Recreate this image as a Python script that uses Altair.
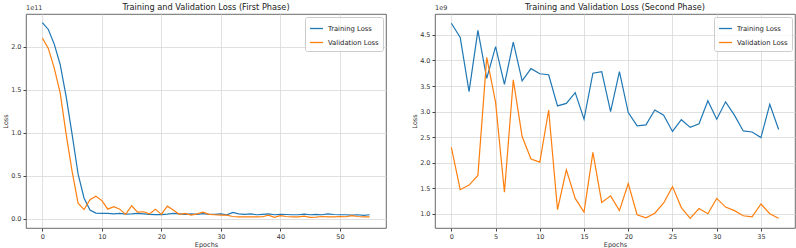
import altair as alt
import pandas as pd

# ---- data (loss values in units of the offset shown above each axis) ----
epochs1 = list(range(56))
train1 = [2.28, 2.20, 2.03, 1.79, 1.42, 0.98, 0.52, 0.24, 0.10, 0.065,
          0.062, 0.062, 0.055, 0.060, 0.052, 0.055, 0.060, 0.055, 0.050, 0.046,
          0.047, 0.052, 0.060, 0.055, 0.050, 0.055, 0.050, 0.058, 0.050, 0.050,
          0.055, 0.045, 0.072, 0.055, 0.050, 0.055, 0.045, 0.050, 0.055, 0.045,
          0.050, 0.048, 0.045, 0.045, 0.052, 0.045, 0.050, 0.045, 0.055, 0.048,
          0.045, 0.045, 0.040, 0.045, 0.038, 0.045]
val1 = [2.10, 1.98, 1.75, 1.46, 0.98, 0.55, 0.18, 0.105, 0.22, 0.26,
        0.21, 0.11, 0.14, 0.11, 0.05, 0.15, 0.075, 0.08, 0.055, 0.11,
        0.05, 0.145, 0.10, 0.05, 0.06, 0.04, 0.055, 0.075, 0.05, 0.045,
        0.04, 0.04, 0.025, 0.02, 0.02, 0.022, 0.02, 0.022, 0.04, 0.015,
        0.035, 0.025, 0.02, 0.02, 0.03, 0.015, 0.018, 0.025, 0.02, 0.02,
        0.025, 0.022, 0.035, 0.025, 0.02, 0.02]

epochs2 = list(range(38))
train2 = [4.73, 4.45, 3.39, 4.59, 3.65, 4.27, 3.53, 4.36, 3.60, 3.84,
          3.74, 3.72, 3.11, 3.16, 3.37, 2.85, 3.75, 3.78, 3.00, 3.78,
          2.98, 2.72, 2.74, 3.03, 2.93, 2.61, 2.84, 2.69, 2.76, 3.21,
          2.85, 3.19, 2.93, 2.62, 2.60, 2.49, 3.14, 2.65]
val2 = [2.30, 1.47, 1.56, 1.75, 4.06, 3.18, 1.42, 3.62, 2.51, 2.07,
        2.01, 3.03, 1.08, 1.86, 1.30, 1.03, 2.20, 1.22, 1.35, 1.06,
        1.59, 0.98, 0.92, 1.01, 1.21, 1.53, 1.12, 0.91, 1.10, 1.00,
        1.30, 1.13, 1.06, 0.96, 0.94, 1.19, 1.00, 0.91]

series = ["Training Loss", "Validation Loss"]
colors = ["#1f77b4", "#ff7f0e"]
FONT = "DejaVu Sans"
W, H = 360, 214


def frame(epochs, train, val):
    return pd.DataFrame({
        "Epochs": epochs + epochs,
        "Loss": train + val,
        "Series": [series[0]] * len(epochs) + [series[1]] * len(epochs),
    })


def panel(df, title, xdom, ydom, xticks, yticks, offset):
    base = alt.Chart(df)
    lines = base.mark_line(strokeWidth=1.2, clip=True).encode(
        x=alt.X("Epochs:Q", scale=alt.Scale(domain=xdom, nice=False, zero=False),
                axis=alt.Axis(values=xticks, format="d", title="Epochs",
                              titleColor="#333", labelColor="#333")),
        y=alt.Y("Loss:Q", scale=alt.Scale(domain=ydom, nice=False, zero=False),
                axis=alt.Axis(values=yticks, format=".1f", title="Loss",
                              titleColor="#333", labelColor="#333")),
        color=alt.Color("Series:N", scale=alt.Scale(domain=series, range=colors),
                        legend=alt.Legend(title=None, orient="top-right", symbolType="stroke",
                                          symbolStrokeWidth=1.3, symbolSize=170,
                                          labelFontSize=6.8, labelFont=FONT, labelColor="#222",
                                          fillColor="rgba(255,255,255,0.8)", strokeColor="#ccc",
                                          padding=4, cornerRadius=2, offset=3,
                                          rowPadding=2, labelLimit=200)),
    )
    off = alt.Chart(pd.DataFrame({"t": [offset]})).mark_text(
        align="left", baseline="bottom", fontSize=6.5, font=FONT, color="#333"
    ).encode(text="t:N", x=alt.value(0), y=alt.value(-3))
    ttl = alt.Chart(pd.DataFrame({"t": [title]})).mark_text(
        align="center", baseline="bottom", fontSize=8.2, font=FONT, color="#222"
    ).encode(text="t:N", x=alt.value(W / 2), y=alt.value(-2))
    return alt.layer(lines, off, ttl).properties(width=W, height=H)


left = panel(frame(epochs1, train1, val1), "Training and Validation Loss (First Phase)",
             [-2.75, 57.75], [-0.109, 2.38], [0, 10, 20, 30, 40, 50],
             [0.0, 0.5, 1.0, 1.5, 2.0], "1e11")
right = panel(frame(epochs2, train2, val2), "Training and Validation Loss (Second Phase)",
              [-1.85, 38.85], [0.72, 4.91], [0, 5, 10, 15, 20, 25, 30, 35],
              [1.0, 1.5, 2.0, 2.5, 3.0, 3.5, 4.0, 4.5], "1e9")

chart = alt.hconcat(left, right, spacing=24).resolve_scale(color="independent").properties(
    padding={"left": 2, "top": 2, "right": 0, "bottom": 0}
).configure_view(stroke="#444", strokeWidth=0.8).configure_axis(
    labelFont=FONT, titleFont=FONT, labelFontSize=6.5, titleFontSize=6.5,
    titleFontWeight="normal", labelColor="#333", titleColor="#333",
    gridColor="#d8d8d8", gridWidth=0.8, tickColor="#444", tickSize=3,
    domain=False, labelPadding=2, titlePadding=2,
)

chart.save("out.html", embed_options={"renderer": "svg", "actions": False})
